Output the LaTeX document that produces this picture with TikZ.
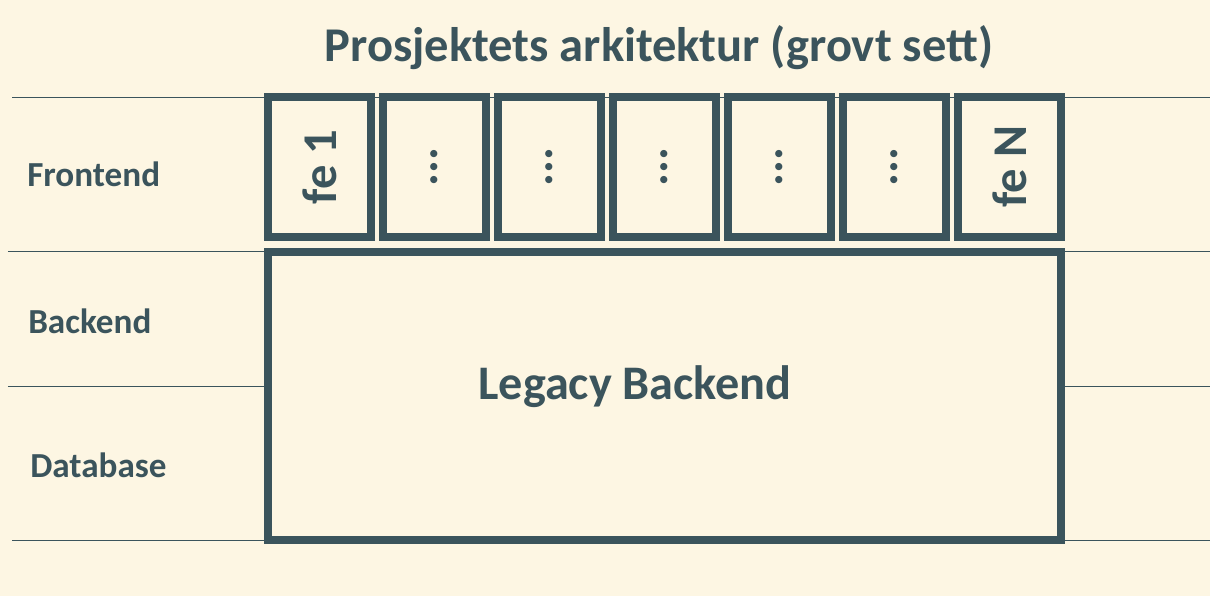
\documentclass[tikz,border=0pt]{standalone}
\usepackage{fontspec}
\setmainfont{Carlito}
\definecolor{paper}{HTML}{FDF6E3}
\definecolor{slate}{HTML}{3B545C}

\begin{document}
\begin{tikzpicture}[
	fe/.style={draw=slate,line width=0.2cm,rotate=90,minimum width=3.49cm,minimum height=2.575cm,inner sep=0pt,text=slate,font=\fontsize{34.5}{40}\selectfont\bfseries},
	legacy/.style={draw=slate,fill=paper,line width=0.2cm,minimum width=19.825cm,minimum height=7.2cm,inner sep=0pt},
	layer/.style={anchor=west,inner sep=0pt,text=slate,font=\fontsize{25}{30}\selectfont\bfseries},
	sep/.style={draw=slate,line width=0.7pt}]
%	\draw[lightgray] (0,0) grid (30,15);
\fill[paper] (0,0) rectangle (30.25,14.9);
\useasboundingbox (0,0) rectangle (30.25,14.9);

\node[text=slate,font=\fontsize{34.5}{40}\selectfont\bfseries] (Title) at (16.475,13.72) {Prosjektets arkitektur (grovt sett)};

\draw[sep] (0.3,12.45) -- (30.25,12.45);
\draw[sep] (0.2,8.625) -- (30.25,8.625);
\draw[sep] (0.2,5.25) -- (30.25,5.25);
\draw[sep] (0.3,1.4) -- (30.25,1.4);

\node[layer] (Frontend) at (0.675,10.55) {Frontend};
\node[layer] (Backend) at (0.7,6.875) {Backend};
\node[layer] (Database) at (0.75,3.275) {Database};

\node[fe] (FE1) at (7.9875,10.73) {fe 1};
\node[fe] (FE2) at (10.8625,10.73) {...};
\node[fe] (FE3) at (13.7375,10.73) {...};
\node[fe] (FE4) at (16.6125,10.73) {...};
\node[fe] (FE5) at (19.4875,10.73) {...};
\node[fe] (FE6) at (22.3625,10.73) {...};
\node[fe] (FEN) at (25.2375,10.73) {fe N};

\node[legacy] (Legacy) at (16.6125,4.9925) {};
\node[text=slate,font=\fontsize{34.3}{40}\selectfont\bfseries] (LegacyText) at (15.875,5.225) {Legacy Backend};
\end{tikzpicture}
\end{document}
